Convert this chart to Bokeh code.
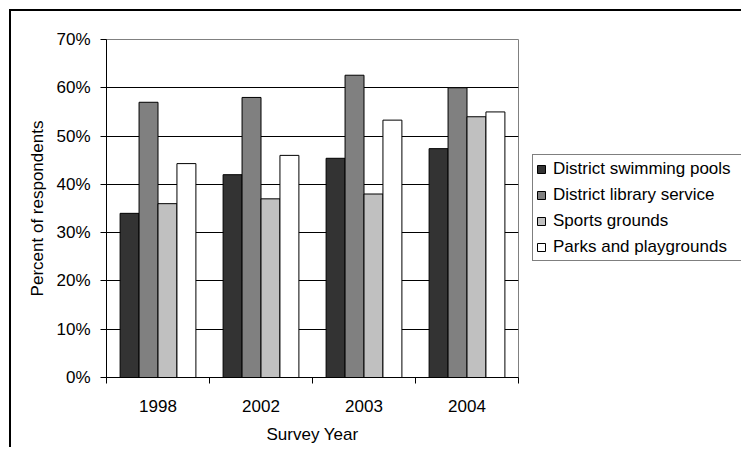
from bokeh.plotting import figure
from bokeh.models import (ColumnDataSource, Range1d, FixedTicker, Legend, LegendItem)
from bokeh.transform import dodge
from bokeh.embed import file_html
from bokeh.resources import INLINE

years = ["1998", "2002", "2003", "2004"]
series_names = ["District swimming pools", "District library service",
                "Sports grounds", "Parks and playgrounds"]
pools = [34.0, 42.0, 45.4, 47.4]
library = [57.0, 58.0, 62.6, 60.0]
sports = [36.0, 37.0, 38.0, 54.0]
parks = [44.3, 46.0, 53.3, 55.0]
y_ticks = [0, 10, 20, 30, 40, 50, 60, 70]
y_tick_labels = ["0%", "10%", "20%", "30%", "40%", "50%", "60%", "70%"]

colors = ["#333333", "#808080", "#c0c0c0", "#ffffff"]
FONT = "Liberation Sans"
FS = "17px"

centers = [i + 0.5 for i in range(len(years))]
src = ColumnDataSource(dict(x=centers, pools=pools, library=library,
                            sports=sports, parks=parks))

p = figure(width=730, height=438, output_backend="svg", toolbar_location=None,
           x_range=Range1d(0, len(years)), y_range=Range1d(0, 70),
           min_border_left=95, min_border_top=28, min_border_right=223,
           min_border_bottom=72, frame_width=412, frame_height=338,
           styles={"box-shadow": "-2px -2px 0 0 #000000",
                   "margin-left": "11px", "margin-top": "11px"})
p.background_fill_color = "white"
p.border_fill_color = "white"
p.outline_line_color = "#808080"
p.outline_line_width = 1

w = 0.184
renderers = []
for k, col in enumerate(["pools", "library", "sports", "parks"]):
    r = p.vbar(x=dodge("x", (k - 1.5) * w), top=col, width=w, source=src,
               fill_color=colors[k], line_color="black", line_width=1)
    renderers.append(r)

# grid
p.xgrid.visible = False
p.ygrid.ticker = FixedTicker(ticks=y_ticks[1:-1])
p.ygrid.grid_line_color = "black"
p.ygrid.grid_line_width = 1

# y axis
ya = p.yaxis[0]
ya.ticker = FixedTicker(ticks=y_ticks)
ya.major_label_overrides = {t: l for t, l in zip(y_ticks, y_tick_labels)}
ya.axis_label = "Percent of respondents"
ya.major_tick_out = 6
ya.major_tick_in = 0
ya.minor_tick_line_color = None
ya.major_label_standoff = 10
ya.axis_label_standoff = 6

# x axis
xa = p.xaxis[0]
xa.ticker = FixedTicker(ticks=centers, minor_ticks=list(range(len(years) + 1)))
xa.major_label_overrides = {c: y for c, y in zip(centers, years)}
xa.axis_label = "Survey Year"
xa.major_tick_out = 0
xa.major_tick_in = 0
xa.minor_tick_out = 6
xa.minor_tick_in = 0
xa.minor_tick_line_color = "black"
xa.major_label_standoff = 16
xa.axis_label_standoff = 10

for ax in (xa, ya):
    ax.axis_line_color = "black"
    ax.major_tick_line_color = "black"
    ax.major_label_text_font = FONT
    ax.major_label_text_font_size = FS
    ax.major_label_text_color = "black"
    ax.axis_label_text_font = FONT
    ax.axis_label_text_font_size = FS
    ax.axis_label_text_font_style = "normal"
    ax.axis_label_text_color = "black"

items = [LegendItem(label=n, renderers=[r]) for n, r in zip(series_names, renderers)]
legend = Legend(items=items, location=(14, 116))
legend.border_line_color = "black"
legend.border_line_width = 1
legend.background_fill_color = "white"
legend.background_fill_alpha = 1
legend.label_text_font = FONT
legend.label_text_font_size = FS
legend.label_text_color = "black"
legend.glyph_width = 10
legend.glyph_height = 10
legend.label_height = 21
legend.label_width = 200
legend.spacing = 5
legend.padding = 3
legend.margin = 0
legend.label_standoff = 7
p.add_layout(legend, "right")

open("out.html", "w").write(file_html(p, INLINE))
